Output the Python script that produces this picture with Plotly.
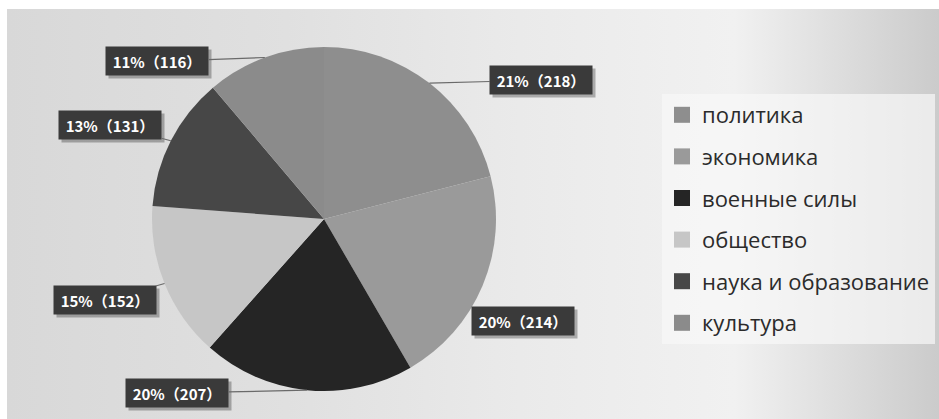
import math
import plotly.graph_objects as go

# Data
categories = ["политика", "экономика", "военные силы", "общество", "наука и образование", "культура"]
counts = [218, 214, 207, 152, 131, 116]
percents = [21, 20, 20, 15, 13, 11]

colors = ["#8e8e8e", "#9a9a9a", "#252525", "#c6c6c6", "#474747", "#8b8b8b"]

# label box offsets from the slice edge (pixels), styling only
label_offsets = [(112, -3), (40, 36), (-130, 3), (-60, 17), (-61, -16), (-108, 4)]
label_lines = [True, False, True, True, True, True]

W, H = 939, 419
# pie geometry (pixels)
cx, cy, r = 324, 219, 172
dom_x = [(cx - r) / W, (cx + r) / W]
dom_y = [(H - cy - r) / H, (H - cy + r) / H]

fig = go.Figure()

# background panel with soft gradient
fig.add_trace(go.Scatter(
    x=[7, W, W, 7, 7], y=[0, 0, H - 9, H - 9, 0],
    mode="lines", fill="toself", line=dict(width=0),
    fillgradient=dict(type="horizontal",
                      colorscale=[[0, "#d8d8d8"], [0.3, "#e0e0e0"], [0.55, "#eaeaea"],
                                  [0.78, "#f1f1f1"], [1, "#cbcbcb"]]),
    hoverinfo="skip", showlegend=False,
))

# legend entries
for i, (name, c) in enumerate(zip(categories, colors)):
    fig.add_trace(go.Scatter(
        x=[None], y=[None], mode="markers", name=name,
        legendgroup=f"g{i}",
        marker=dict(symbol="square", size=16, color=c),
    ))

fig.add_trace(go.Pie(
    labels=categories, values=counts,
    marker=dict(colors=colors, line=dict(width=0)),
    sort=False, direction="clockwise", rotation=0,
    textinfo="none", hoverinfo="skip", showlegend=False,
    domain=dict(x=dom_x, y=dom_y),
))

# labels with leader lines
total = sum(counts)
cum = 0
annotations = []
for v, p, (ax, ay), ln in zip(counts, percents, label_offsets, label_lines):
    mid = (cum + v / 2) / total * 2 * math.pi
    cum += v
    px = cx + r * math.sin(mid)
    py = cy - r * math.cos(mid)
    xp, yp = px / W, 1 - py / H
    common = dict(x=xp, y=yp, xref="paper", yref="paper", ax=ax, ay=ay,
                  showarrow=True, arrowhead=0, width=100, height=26)
    annotations.append(dict(common, text=" ", bgcolor="rgba(0,0,0,0.28)",
                            xshift=3, yshift=-3, arrowcolor="rgba(0,0,0,0)"))
    annotations.append(dict(common, text=f"<b>{p}%（{v}）</b>",
                            bgcolor="#3a3a3a",
                            font=dict(family="Noto Sans CJK SC", size=15, color="white"),
                            arrowcolor="#6a6a6a" if ln else "rgba(0,0,0,0)",
                            arrowwidth=1.2))

fig.update_layout(
    width=W, height=H,
    margin=dict(l=0, r=0, t=0, b=0),
    paper_bgcolor="white",
    plot_bgcolor="rgba(0,0,0,0)",
    xaxis=dict(range=[0, W], visible=False, fixedrange=True, domain=[0, 1]),
    yaxis=dict(range=[0, H], visible=False, fixedrange=True, domain=[0, 1]),
    legend=dict(
        x=662 / W, y=1 - 94 / H, xanchor="left", yanchor="top",
        font=dict(family="Open Sans", size=22, color="#2b2b2b"),
        bgcolor="rgba(248,248,248,0.7)",
        tracegroupgap=10, itemclick=False, itemdoubleclick=False,
    ),
    annotations=annotations,
    showlegend=True,
)

fig.write_html("out.html", config={"displayModeBar": False},
               post_script="document.body.style.margin='0';document.body.style.overflow='hidden';")
